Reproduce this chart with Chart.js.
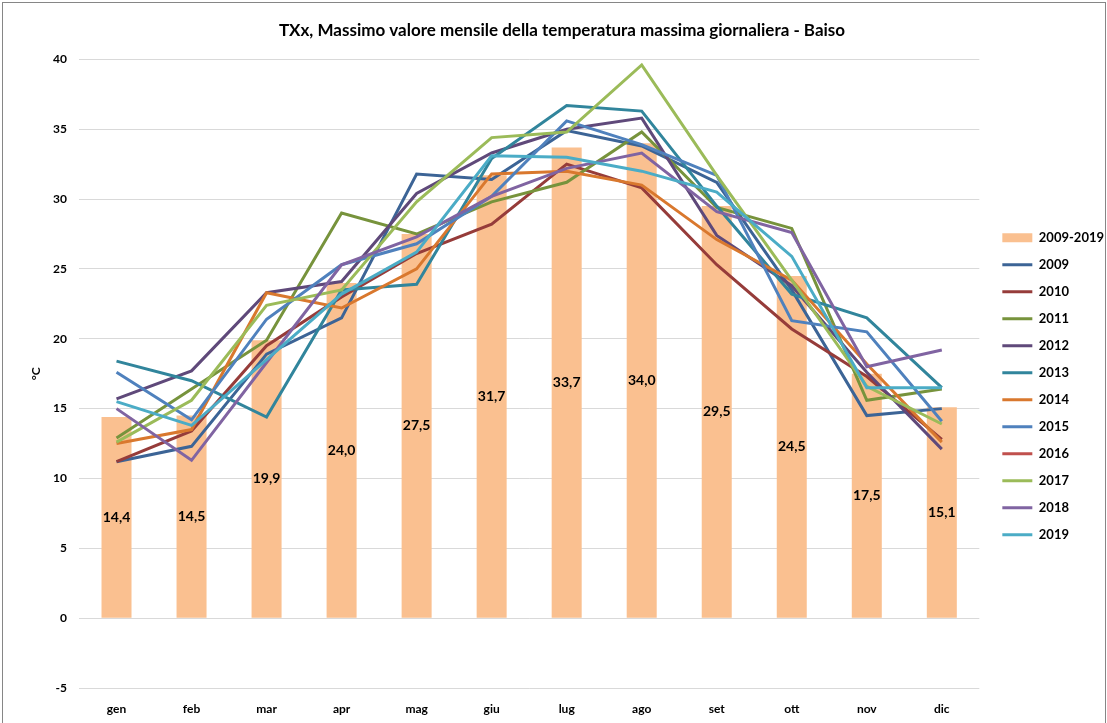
<!DOCTYPE html>
<html>
<head>
<meta charset="utf-8">
<script src="https://cdn.jsdelivr.net/npm/chart.js@4"></script>
<style>
  body { margin: 0; background: #fff; }
  #wrap { position: absolute; left: 2px; top: 2px; width: 1102px; height: 730px; border: 1px solid #868686; }
  #box { position: relative; width: 1102px; height: 720px; }
</style>
</head>
<body>
<div id="wrap"><div id="box"><canvas id="chart"></canvas></div></div>
<script>
// TXx Baiso – monthly maximum of daily max temperature
const MONTHS = ['gen', 'feb', 'mar', 'apr', 'mag', 'giu', 'lug', 'ago', 'set', 'ott', 'nov', 'dic'];
const MEAN_0919 = [14.4, 14.5, 19.9, 24.0, 27.5, 31.7, 33.7, 34.0, 29.5, 24.5, 17.5, 15.1];

const Y2009 = [11.2, 12.3, 18.9, 21.5, 31.8, 31.4, 34.9, 33.8, 31.2, 23.5, 14.5, 15.0];
const Y2010 = [11.2, 13.4, 19.5, 23.0, 26.1, 28.2, 32.5, 30.8, 25.3, 20.7, 17.3, 12.8];
const Y2011 = [12.9, 16.4, 19.9, 29.0, 27.5, 29.8, 31.2, 34.8, 29.4, 27.9, 15.6, 16.4];
const Y2012 = [15.7, 17.7, 23.3, 24.1, 30.4, 33.3, 35.0, 35.8, 27.4, 23.8, 17.6, 12.1];
const Y2013 = [18.4, 17.0, 14.4, 23.5, 23.9, 32.9, 36.7, 36.3, 29.5, 23.2, 21.5, 16.5];
const Y2014 = [12.5, 13.5, 23.3, 22.2, 25.0, 31.8, 32.0, 31.0, 27.1, 24.2, 18.2, 12.6];
const Y2015 = [17.6, 14.2, 21.4, 25.3, 26.8, 30.2, 35.6, 33.9, 31.7, 21.3, 20.5, 14.1];
const Y2016 = [null, null, null, null, null, null, null, null, null, null, null, null];
const Y2017 = [12.6, 15.6, 22.4, 23.5, 29.8, 34.4, 34.8, 39.6, 31.7, 24.2, 16.6, 13.9];
const Y2018 = [15.0, 11.3, 18.3, 25.3, 27.3, 30.2, 32.2, 33.3, 29.1, 27.6, 18.0, 19.2];
const Y2019 = [15.5, 13.8, 18.5, 23.2, 26.2, 33.1, 33.0, 32.0, 30.5, 25.9, 16.5, 16.5];

const YEARS = ['2009', '2010', '2011', '2012', '2013', '2014', '2015', '2016', '2017', '2018', '2019'];
const YEAR_DATA = [Y2009, Y2010, Y2011, Y2012, Y2013, Y2014, Y2015, Y2016, Y2017, Y2018, Y2019];
const YEAR_COLORS = ['#3c6496', '#963c3a', '#77933c', '#5f497a', '#31859c', '#d9782e',
                     '#4f81bd', '#c0504d', '#9bbb59', '#8064a2', '#4bacc6'];

const FONT = 'Lato, "Noto Sans", sans-serif';

// bar value labels, centred in each bar, comma decimals
const barLabels = {
  id: 'barLabels',
  afterDatasetDraw(chart, args) {
    if (args.index !== 0) return;
    const ctx = chart.ctx;
    ctx.save();
    ctx.font = `bold 14px ${FONT}`;
    ctx.fillStyle = '#000';
    ctx.textAlign = 'center';
    ctx.textBaseline = 'middle';
    args.meta.data.forEach((bar, i) => {
      const v = MEAN_0919[i];
      ctx.fillText(v.toFixed(1).replace('.', ','), bar.x, (bar.y + bar.base) / 2);
    });
    ctx.restore();
  }
};

// nudge legend a little to the right without touching the plot area
const legendShift = {
  id: 'legendShift',
  afterLayout(chart) {
    if (chart.legend) { chart.legend.left += 9; chart.legend.right += 9; }
  }
};

const datasets = [{
  type: 'bar',
  label: '2009-2019',
  data: MEAN_0919,
  backgroundColor: '#fac090',
  categoryPercentage: 1,
  barPercentage: 0.4,
  order: 20,
  pointStyle: 'rect'
}];
YEARS.forEach((y, i) => datasets.push({
  type: 'line',
  label: y,
  data: YEAR_DATA[i],
  borderColor: YEAR_COLORS[i],
  backgroundColor: YEAR_COLORS[i],
  borderWidth: 3,
  pointRadius: 0,
  tension: 0,
  pointStyle: 'line',
  order: 15 - i   // later years on top
}));

new Chart(document.getElementById('chart'), {
  data: { labels: MONTHS, datasets },
  plugins: [barLabels, legendShift],
  options: {
    responsive: true, maintainAspectRatio: false, animation: false,
    layout: { padding: { left: 16, right: 0, top: 0, bottom: 0 } },
    plugins: {
      title: {
        display: true,
        text: 'TXx, Massimo valore mensile della temperatura massima giornaliera - Baiso',
        color: '#000',
        font: { family: FONT, size: 17, weight: 'bold' },
        padding: { top: 17, bottom: 19 }
      },
      legend: {
        position: 'right',
        title: { display: true, text: ' ', padding: { top: 16, bottom: 16 } },
        labels: {
          usePointStyle: true,
          pointStyleWidth: 30,
          boxHeight: 9,
          padding: 14,
          color: '#000',
          font: { family: FONT, size: 13, weight: 'bold' },
          sort: (a, b) => a.datasetIndex - b.datasetIndex
        }
      },
      tooltip: { enabled: false }
    },
    scales: {
      x: {
        grid: { display: false, drawTicks: false },
        border: { display: false },
        ticks: { color: '#000', padding: 14, font: { family: FONT, size: 12, weight: 'bold' } },
        afterFit: s => { s.height = 35; }
      },
      y: {
        min: -5, max: 40,
        grid: { color: '#d9d9d9', drawTicks: false },
        border: { display: false },
        ticks: { stepSize: 5, color: '#000', padding: 12, font: { family: FONT, size: 12, weight: 'bold' } },
        title: { display: true, text: '°C', color: '#000', padding: { top: 10, bottom: 0 }, font: { family: FONT, size: 12, weight: 'bold' } },
        afterFit: s => { s.width = 60; }
      }
    }
  }
});
</script>
</body>
</html>
